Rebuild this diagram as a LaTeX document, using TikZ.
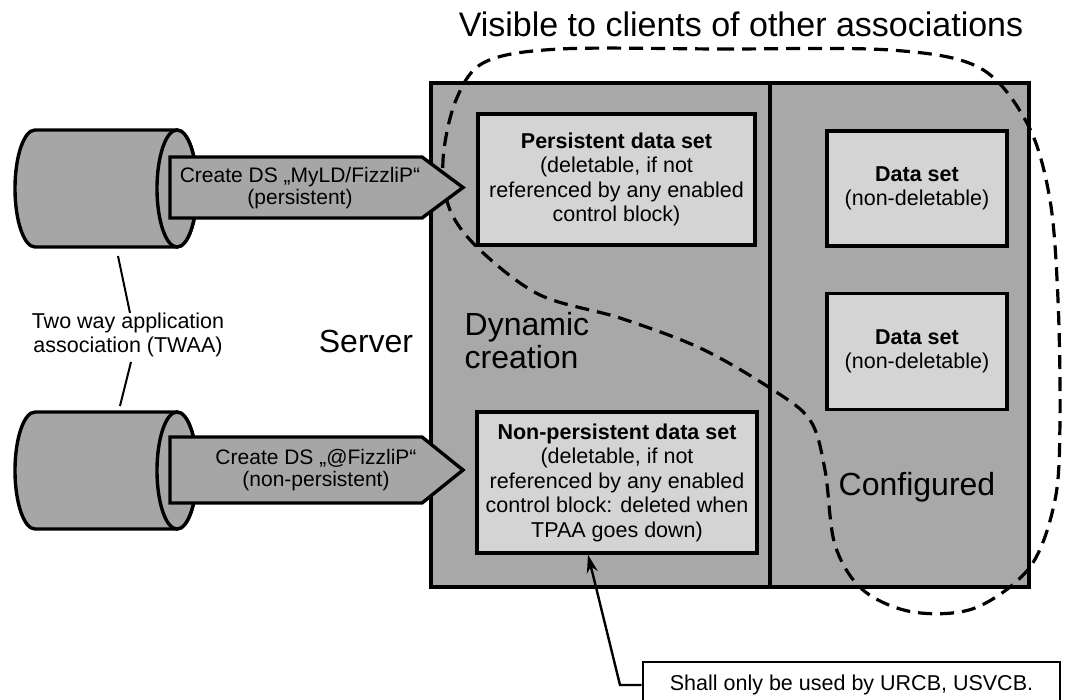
\documentclass[tikz,border=0pt]{standalone}
\usepackage{fontspec}
\setmainfont{Liberation Sans}
\usetikzlibrary{arrows.meta}
\definecolor{srvgray}{gray}{0.66}
\definecolor{boxgray}{gray}{0.83}
\definecolor{cylgray}{gray}{0.65}
\newcommand{\txtsize}{\fontsize{21.5}{24.5}\selectfont}
\newcommand{\arrsize}{\fontsize{21}{22}\selectfont}
\newcommand{\bigsize}{\fontsize{32}{33}\selectfont}

\begin{document}
\begin{tikzpicture}[x=1pt,y=-1pt,line width=3.4pt,
    dsbox/.style={draw,fill=boxgray,font=\txtsize,align=center,inner sep=0pt},
    bigtext/.style={font=\bigsize,align=left,inner sep=0pt},
    plaintext/.style={font=\txtsize,align=center,inner sep=0pt},
    cyl/.style={draw,fill=cylgray},
    dsarrow/.style={draw,fill=cylgray},
    visible/.style={draw,line width=3.2pt,dash pattern=on 14pt off 8pt}]
  \useasboundingbox (0,0) rectangle (1067,699);

  % server with its two parts
  \node[draw,fill=srvgray,minimum width=598,minimum height=504] (srv) at (730,335) {};
  \draw (770,83) -- (770,587);
  \node[dsbox,minimum width=277,minimum height=131] (pset) at (616.5,179.5)
    {\textbf{Persistent data set}\\(deletable, if not\\referenced by any enabled\\control block)};
  \node[dsbox,minimum width=280,minimum height=141] (npset) at (617,482.5)
    {\textbf{Non-persistent data set}\\(deletable, if not\\referenced by any enabled\\control block: deleted when\\TPAA goes down)};
  \node[dsbox,minimum width=180,minimum height=115] (cset1) at (917,188.5)
    {\textbf{Data set}\\(non-deletable)};
  \node[dsbox,minimum width=180,minimum height=116] (cset2) at (917,351.5)
    {\textbf{Data set}\\(non-deletable)};
  \node[bigtext,anchor=west] (dyn) at (463,341) {Dynamic\\creation};
  \node[bigtext] (conf) at (917,487) {Configured};
  \node[bigtext] (srvlabel) at (366,341) {Server};

  % visible region
  \draw[visible] plot[smooth cycle,tension=0.55] coordinates {
    (560,49) (720,49) (890,50) (980,68) (1028,125) (1050,200) (1058,300)
    (1060,420) (1055,500) (1030,567) (975,608) (913,612) (863,590)
    (835,545) (825,470) (810,420) (770,388) (700,348) (620,318)
    (540,295) (480,250) (450,210) (443,160) (456,100) (485,62)};
  \node[font=\fontsize{34}{36}\selectfont,inner sep=0pt] (title) at (741,24)
    {Visible to clients of other associations};

  % clients
  \foreach \cy in {188.5,470.5} {
    \draw[cyl] (35,\cy-58.5) -- (177,\cy-58.5)
      arc[start angle=-90,end angle=90,x radius=20,y radius=58.5]
      -- (35,\cy+58.5)
      arc[start angle=90,end angle=270,x radius=20,y radius=58.5] -- cycle;
    \draw[cyl] (177,\cy) ellipse[x radius=20,y radius=58.5];
  }
  \draw[dsarrow] (170,157) -- (422,157) -- (463,187.5) -- (422,218) -- (170,218) -- cycle;
  \draw[dsarrow] (170,437) -- (422,437) -- (463,470) -- (422,503) -- (170,503) -- cycle;
  \node[font=\arrsize,align=center,inner sep=0pt] (arrP) at (300,188)
    {Create DS „MyLD/FizzliP“\\(persistent)};
  \node[font=\arrsize,align=center,inner sep=0pt] (arrN) at (316,470)
    {Create DS „@FizzliP“\\(non-persistent)};

  % association
  \node[plaintext] (twaa) at (128,335) {Two way application\\association (TWAA)};
  \coordinate (cylAbot) at (118,256);
  \coordinate (twtop) at (130,313);
  \coordinate (twbot) at (131,362);
  \coordinate (cylBtop) at (120,406);
  \draw[line width=2pt] (cylAbot) -- (twtop);
  \draw[line width=2pt] (twbot) -- (cylBtop);

  % note
  \node[draw,fill=white,line width=2.6pt,font=\txtsize,minimum width=417,minimum height=46] (note) at (851.5,685)
    {Shall only be used by URCB, USVCB.};
  \coordinate (bend) at (620,685);
  \coordinate (tipx) at (588,0);
  \draw[line width=2.4pt,-{Stealth[length=18pt,width=11pt]}] (note.west) -- (bend) -- (npset.south -| tipx);
\end{tikzpicture}
\end{document}
